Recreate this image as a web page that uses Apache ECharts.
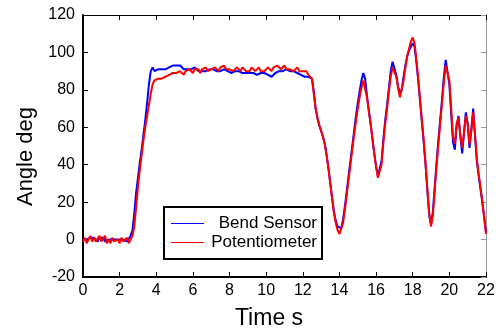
<!DOCTYPE html>
<html>
<head>
<meta charset="utf-8">
<script src="https://cdn.jsdelivr.net/npm/echarts@6/dist/echarts.min.js"></script>
<style>
html,body{margin:0;padding:0;background:#fff;}
#chart{width:500px;height:335px;}
</style>
</head>
<body>
<div id="chart"></div>
<script>
// Sample times (s)
const time = [
0.0,0.1,0.2,0.3,0.4,0.5,0.6,0.7,0.8,0.9,
1.0,1.1,1.2,1.3,1.4,1.5,1.6,1.7,1.8,1.9,
2.0,2.1,2.2,2.3,2.4,2.5,2.6,2.7,2.8,2.9,
3.0,3.1,3.2,3.3,3.4,3.5,3.6,3.7,3.8,3.9,
4.0,4.1,4.2,4.3,4.4,4.5,4.6,4.7,4.8,4.9,
5.0,5.1,5.2,5.3,5.4,5.5,5.6,5.7,5.8,5.9,
6.0,6.1,6.2,6.3,6.4,6.5,6.6,6.7,6.8,6.9,
7.0,7.1,7.2,7.3,7.4,7.5,7.6,7.7,7.8,7.9,
8.0,8.1,8.2,8.3,8.4,8.5,8.6,8.7,8.8,8.9,
9.0,9.1,9.2,9.3,9.4,9.5,9.6,9.7,9.8,9.9,
10.0,10.1,10.2,10.3,10.4,10.5,10.6,10.7,10.8,10.9,
11.0,11.1,11.2,11.3,11.4,11.5,11.6,11.7,11.8,11.9,
12.0,12.1,12.2,12.3,12.4,12.5,12.6,12.7,12.8,12.9,
13.0,13.1,13.2,13.3,13.4,13.5,13.6,13.7,13.8,13.9,
14.0,14.1,14.2,14.3,14.4,14.5,14.6,14.7,14.8,14.9,
15.0,15.1,15.2,15.3,15.4,15.5,15.6,15.7,15.8,15.9,
16.0,16.1,16.2,16.3,16.4,16.5,16.6,16.7,16.8,16.9,
17.0,17.1,17.2,17.3,17.4,17.5,17.6,17.7,17.8,17.9,
18.0,18.1,18.2,18.3,18.4,18.5,18.6,18.7,18.8,18.9,
19.0,19.1,19.2,19.3,19.4,19.5,19.6,19.7,19.8,19.9,
20.0,20.1,20.2,20.3,20.4,20.5,20.6,20.7,20.8,20.9,
21.0,21.1,21.2,21.3,21.4,21.5,21.6,21.7,21.8,21.9,
22.0
];

// Bend Sensor angle (deg)
const bendSensor = [
0,1,0,-1,1,0,1,0,-1,1,
0,1,-1,0,0,-1,0,1,0,-1,
0,-1,0,1,-1,0,2,5,14,25,
33,41,48,56,64,73,83,90,92,90,
90,91,90,91,90,91,91,92,93,93,
92,93,92,93,92,91,92,91,92,91,
91,92,91,90,91,90,91,90,90,91,
90,91,90,90,91,90,90,91,90,90,
90,89,90,90,89,90,89,89,90,89,
89,89,90,89,89,88,89,89,88,89,
88,88,88,87,88,89,90,90,91,90,
90,91,90,90,89,90,89,89,88,88,
88,87,87,87,86,86,79,70,65,61,
58,55,51,45,38,30,22,15,10,7,
6,6,11,18,26,34,42,50,58,66,
73,79,85,89,86,77,69,62,54,46,
39,34,33,42,54,64,72,81,90,95,
94,88,82,78,80,87,93,98,101,103,
105,103,95,85,74,63,52,40,26,13,
8,15,28,41,53,64,75,87,96,95,
83,67,52,48,61,66,55,46,57,68,
62,49,59,70,56,42,34,27,20,12,
4
];

// Potentiometer angle (deg)
const potentiometer = [
-1,1,-2,0,2,-1,1,-1,0,2,
-1,0,2,-2,0,-2,1,-1,-2,0,
-2,1,-1,-2,1,-2,0,2,7,17,
28,37,45,53,60,66,72,78,83,85,
84,86,85,86,85,87,86,88,87,89,
88,89,88,90,89,88,90,89,91,90,
89,91,90,91,89,91,90,92,90,91,
91,90,92,91,90,92,91,93,91,90,
91,92,90,91,92,91,90,92,91,90,
91,90,92,91,90,91,92,90,91,90,
91,92,91,90,92,91,93,92,91,92,
93,91,92,91,92,90,91,92,90,91,
90,89,90,88,87,86,78,70,65,61,
58,55,51,45,38,30,22,14,9,5,
3,4,9,16,24,32,40,48,56,63,
70,76,81,85,84,76,69,62,54,46,
39,33,32,40,52,62,70,79,87,92,
92,87,81,76,77,85,92,98,102,106,
108,105,96,86,75,64,53,41,27,14,
7,13,26,39,51,62,73,84,93,94,
85,70,55,51,62,65,56,49,57,66,
62,51,58,68,56,43,35,28,20,12,
3
];

const seriesNames = ['Bend Sensor', 'Potentiometer'];
const xAxisName = 'Time s';
const yAxisName = 'Angle deg';

const FONT = '"Liberation Sans", Arial, Helvetica, sans-serif';
const pairs = (vals) => time.map((t, i) => [t, vals[i]]);

const chart = echarts.init(document.getElementById('chart'), null, {renderer: 'canvas'});

const xCommon = {
  type: 'value', min: 0, max: 22, interval: 2,
  splitLine: {show: false}
};
const yCommon = {
  type: 'value', min: -20, max: 120, interval: 20,
  splitLine: {show: false}
};

chart.setOption({
  animation: false,
  backgroundColor: '#fff',
  grid: {left: 83, right: 14, top: 15, bottom: 55, containLabel: false},
  legend: {
    orient: 'vertical',
    left: 164, top: 207,
    data: seriesNames,
    icon: 'rect',
    itemWidth: 33, itemHeight: 1,
    itemGap: 2,
    padding: [8, 5, 8, 7],
    borderColor: '#000', borderWidth: 2,
    backgroundColor: '#fff',
    formatter: '{a|{name}}',
    textStyle: {
      fontFamily: FONT, fontSize: 17, color: '#000',
      rich: {a: {width: 108, align: 'right', fontFamily: FONT, fontSize: 17, lineHeight: 17, color: '#000'}}
    }
  },
  xAxis: [
    Object.assign({}, xCommon, {
      position: 'bottom',
      name: xAxisName, nameLocation: 'middle', nameGap: 30,
      nameTextStyle: {fontFamily: FONT, fontSize: 23, color: '#000', padding: [0, 31, 0, 0]},
      axisLine: {show: true, onZero: false, lineStyle: {color: '#000', width: 2}},
      axisTick: {show: true, inside: true, length: 5, lineStyle: {color: '#000', width: 1}},
      axisLabel: {show: true, fontFamily: FONT, fontSize: 16, color: '#000', margin: 6}
    }),
    Object.assign({}, xCommon, {
      position: 'top',
      axisLine: {show: true, onZero: false, lineStyle: {color: '#000', width: 1}},
      axisTick: {show: true, inside: true, length: 5, lineStyle: {color: '#000', width: 1}},
      axisLabel: {show: false}
    })
  ],
  yAxis: [
    Object.assign({}, yCommon, {
      position: 'left',
      name: yAxisName, nameLocation: 'middle', nameGap: 46, nameRotate: 90,
      nameTextStyle: {fontFamily: FONT, fontSize: 22, color: '#000', padding: [0, 21, 0, 0]},
      axisLine: {show: true, onZero: false, lineStyle: {color: '#000', width: 2}},
      axisTick: {show: true, inside: true, length: 5, lineStyle: {color: '#000', width: 1}},
      axisLabel: {show: true, fontFamily: FONT, fontSize: 16, color: '#000', margin: 8}
    }),
    Object.assign({}, yCommon, {
      position: 'right',
      axisLine: {show: true, onZero: false, lineStyle: {color: '#999', width: 1}},
      axisTick: {show: true, inside: true, length: 5, lineStyle: {color: '#999', width: 1}},
      axisLabel: {show: false}
    })
  ],
  series: [
    {
      name: seriesNames[0], type: 'line', xAxisIndex: 0, yAxisIndex: 0,
      data: pairs(bendSensor), showSymbol: false, symbol: 'none',
      lineStyle: {color: '#0000ff', width: 2}, itemStyle: {color: '#0000ff'},
      z: 2
    },
    {
      name: seriesNames[1], type: 'line', xAxisIndex: 0, yAxisIndex: 0,
      data: pairs(potentiometer), showSymbol: false, symbol: 'none',
      lineStyle: {color: '#ff0000', width: 2}, itemStyle: {color: '#ff0000'},
      z: 3
    }
  ]
});
</script>
</body>
</html>
